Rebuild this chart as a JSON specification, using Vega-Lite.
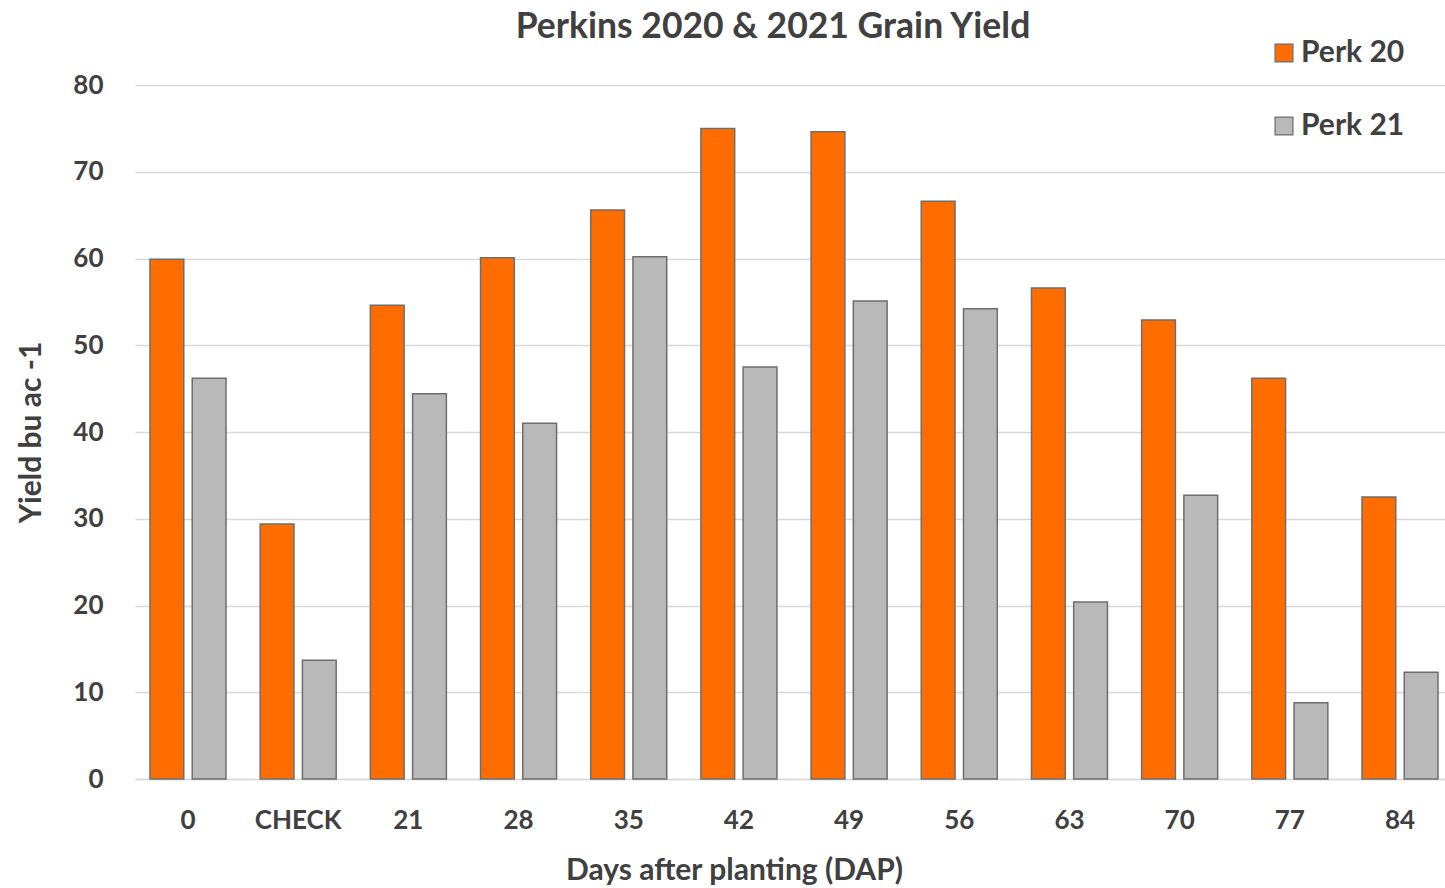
{
  "$schema": "https://vega.github.io/schema/vega-lite/v6.json",
  "autosize": {"type": "none"},
  "padding": {"left": 135, "top": 85, "right": 0, "bottom": 109},
  "width": 1318,
  "height": 694,
  "background": "white",
  "config": {"view": {"stroke": null}},
  "title": {
    "text": "Perkins 2020 & 2021 Grain Yield",
    "font": "Lato",
    "fontSize": 35.5,
    "fontWeight": "bold",
    "color": "#404040",
    "anchor": "middle",
    "frame": "group",
    "dx": -21,
    "offset": -7
  },
  "data": {
    "values": [
      {"dap": "0", "series": "Perk 20", "yield": 59.9},
      {"dap": "0", "series": "Perk 21", "yield": 46.2},
      {"dap": "CHECK", "series": "Perk 20", "yield": 29.4},
      {"dap": "CHECK", "series": "Perk 21", "yield": 13.7},
      {"dap": "21", "series": "Perk 20", "yield": 54.6},
      {"dap": "21", "series": "Perk 21", "yield": 44.4},
      {"dap": "28", "series": "Perk 20", "yield": 60.1},
      {"dap": "28", "series": "Perk 21", "yield": 41.0},
      {"dap": "35", "series": "Perk 20", "yield": 65.6},
      {"dap": "35", "series": "Perk 21", "yield": 60.2},
      {"dap": "42", "series": "Perk 20", "yield": 75.0},
      {"dap": "42", "series": "Perk 21", "yield": 47.5},
      {"dap": "49", "series": "Perk 20", "yield": 74.6},
      {"dap": "49", "series": "Perk 21", "yield": 55.1},
      {"dap": "56", "series": "Perk 20", "yield": 66.6},
      {"dap": "56", "series": "Perk 21", "yield": 54.2},
      {"dap": "63", "series": "Perk 20", "yield": 56.6},
      {"dap": "63", "series": "Perk 21", "yield": 20.4},
      {"dap": "70", "series": "Perk 20", "yield": 52.9},
      {"dap": "70", "series": "Perk 21", "yield": 32.7},
      {"dap": "77", "series": "Perk 20", "yield": 46.2},
      {"dap": "77", "series": "Perk 21", "yield": 8.8},
      {"dap": "84", "series": "Perk 20", "yield": 32.5},
      {"dap": "84", "series": "Perk 21", "yield": 12.3}
    ]
  },
  "mark": {"type": "bar", "stroke": "#6e6e6e", "strokeWidth": 1.5},
  "encoding": {
    "x": {
      "field": "dap",
      "type": "nominal",
      "sort": null,
      "scale": {"paddingInner": 0.31, "paddingOuter": 0.136},
      "axis": {
        "title": "Days after planting (DAP)",
        "labelAngle": 0,
        "labelFont": "Lato",
        "labelFontSize": 26,
        "labelFontWeight": "bold",
        "labelColor": "#404040",
        "labelPadding": 28,
        "titleFont": "Lato",
        "titleFontSize": 30,
        "titleFontWeight": "bold",
        "titleColor": "#404040",
        "titlePadding": 22,
        "titleX": 599,
        "ticks": false,
        "domain": true,
        "domainColor": "#d9d9d9",
        "domainWidth": 1.5
      }
    },
    "xOffset": {
      "field": "series",
      "type": "nominal",
      "scale": {"paddingInner": 0.2}
    },
    "y": {
      "field": "yield",
      "type": "quantitative",
      "scale": {"domain": [0, 80]},
      "axis": {
        "title": "Yield bu ac -1",
        "values": [0, 10, 20, 30, 40, 50, 60, 70, 80],
        "labelFont": "Lato",
        "labelFontSize": 26,
        "labelFontWeight": "bold",
        "labelColor": "#404040",
        "labelPadding": 32,
        "titleFont": "Lato",
        "titleFontSize": 30,
        "titleFontWeight": "bold",
        "titleColor": "#404040",
        "titlePadding": 26,
        "ticks": false,
        "domain": false,
        "grid": true,
        "gridColor": "#d9d9d9",
        "gridWidth": 1.5
      }
    },
    "color": {
      "field": "series",
      "type": "nominal",
      "scale": {"domain": ["Perk 20", "Perk 21"], "range": ["#ff6d00", "#b9b9b9"]},
      "legend": {
        "title": null,
        "orient": "none",
        "legendX": 1134,
        "legendY": -47,
        "symbolType": "square",
        "symbolSize": 320,
        "symbolStrokeColor": "#6e6e6e",
        "symbolStrokeWidth": 1.2,
        "labelFont": "Lato",
        "labelFontSize": 30,
        "labelFontWeight": "bold",
        "labelColor": "#404040",
        "labelOffset": 2,
        "rowPadding": 43
      }
    }
  }
}
